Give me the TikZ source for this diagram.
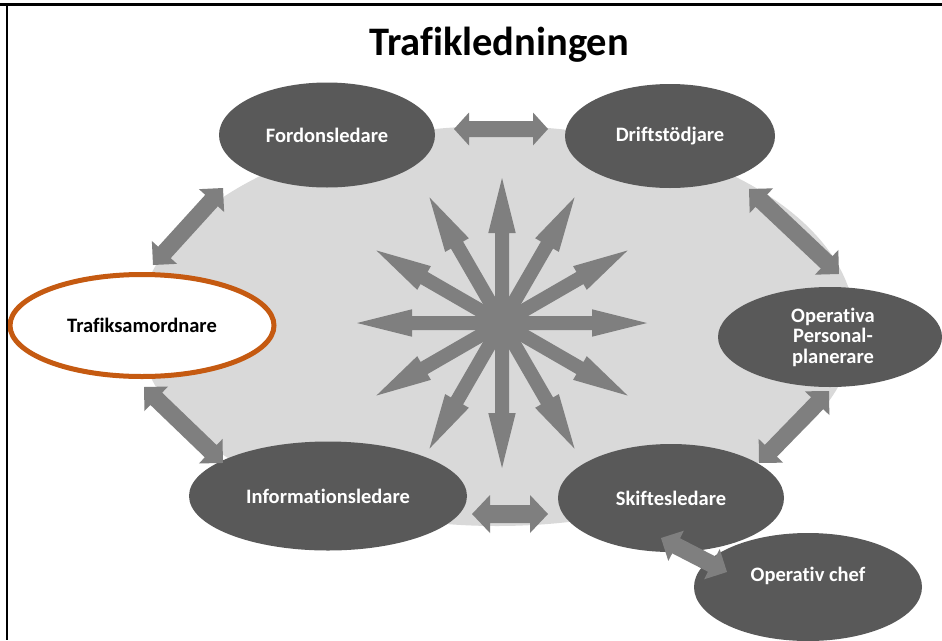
\documentclass[tikz,border=0pt]{standalone}
\usepackage{fontspec}
\setmainfont{Carlito}[Ligatures=NoCommon]
\usetikzlibrary{shapes.geometric}
\definecolor{blobgrey}{HTML}{D9D9D9}
\definecolor{rolegrey}{HTML}{595959}
\definecolor{linkgrey}{HTML}{7F7F7F}
\definecolor{leadorange}{HTML}{C55A11}

% Block arrow with a head at both ends:
% #1 start, #2 end, #3 shaft half-width, #4 head half-width, #5 head length
\newcommand\twohead[5]{%
  \path (#1); \pgfgetlastxy{\thAx}{\thAy}%
  \path (#2); \pgfgetlastxy{\thBx}{\thBy}%
  \pgfmathsetmacro\thAng{atan2(\thBy-\thAy,\thBx-\thAx)}%
  \pgfmathsetmacro\thLen{veclen(\thBx-\thAx,\thBy-\thAy)}%
  \fill[linkgrey, shift={(#1)}, rotate=\thAng]
    (0,0) -- (#5,#4) -- (#5,#3) -- (\thLen-#5,#3) -- (\thLen-#5,#4) -- (\thLen,0)
    -- (\thLen-#5,-#4) -- (\thLen-#5,-#3) -- (#5,-#3) -- (#5,-#4) -- cycle;
}

\tikzset{
  labelfont/.style={font=\bfseries\fontsize{20.5}{20.5}\selectfont},
  role/.style={ellipse, fill=rolegrey, inner sep=0pt, text=white, labelfont, align=center},
  lead/.style={ellipse, fill=white, draw=leadorange, line width=5pt, inner sep=0pt, labelfont},
  rolelabel/.style={text=white, inner sep=0pt, align=center, labelfont},
}

\begin{document}
\begin{tikzpicture}[x=1pt, y=-1pt]
\useasboundingbox (0,0) rectangle (942,640);
\fill[white] (0,0) rectangle (942,640);

% shared background area
\fill[blobgrey] (497,326) ellipse [x radius=358, y radius=200];

% title
\node[anchor=base, inner sep=0pt, font=\bfseries\fontsize{40.5}{42}\selectfont] (title) at (499,55) {Trafikledningen};

% central star of twelve arrows
\coordinate (hub) at (502,323);
\foreach \a in {0,30,...,330}
  \fill[linkgrey, shift={(hub)}, rotate=\a]
    (0,-7) -- (90,-7) -- (90,-13.7) -- (145,0) -- (90,13.7) -- (90,7) -- (0,7) -- cycle;

% roles
\node[role, minimum width=216pt, minimum height=105pt] (ford) at (327,135) {Fordonsledare};
\node[role, minimum width=210pt, minimum height=104pt] (drift) at (670,136) {Driftstödjare};
\node[role, minimum width=224pt, minimum height=100pt] (opers) at (830,337) {};
\node[rolelabel] (operstext) at (833,337) {Operativa\\Personal-\\planerare};
\node[role, minimum width=226pt, minimum height=108pt] (skift) at (671,498) {Skiftesledare};
\node[role, minimum width=278pt, minimum height=109pt] (info) at (328,496) {Informationsledare};
\node[lead, minimum width=264pt, minimum height=102pt] (samord) at (142,325.5) {Trafiksamordnare};
\node[role, minimum width=228pt, minimum height=108pt] (chef) at (808,587) {};
\node[rolelabel] (cheftext) at (808,576) {Operativ chef};

% arrow end points
\coordinate (fdA) at (454,129);   \coordinate (fdB) at (548,129);
\coordinate (isA) at (472,514);   \coordinate (isB) at (548,514);
\coordinate (tfA) at (153,265);   \coordinate (tfB) at (223,188);
\coordinate (doA) at (749,189);   \coordinate (doB) at (839,274);
\coordinate (osA) at (829,391);   \coordinate (osB) at (759,463);
\coordinate (tiA) at (144,387);   \coordinate (tiB) at (223,463);
\coordinate (scA) at (661,538);   \coordinate (scB) at (727,572);

% links between roles
\twohead{fdA}{fdB}{8}{16.5}{15}
\twohead{isA}{isB}{9}{19}{18}
\twohead{tfA}{tfB}{8.5}{17}{17}
\twohead{doA}{doB}{8.5}{17}{17}
\twohead{osA}{osB}{8.5}{17}{17}
\twohead{tiA}{tiB}{8.5}{17}{17}
\twohead{scA}{scB}{8.5}{17}{17}

% frame lines
\draw[line width=2.7pt] (0,4.7) -- (942,4.7);
\draw[line width=2.3pt] (6.8,3.3) -- (6.8,640);
\end{tikzpicture}
\end{document}
